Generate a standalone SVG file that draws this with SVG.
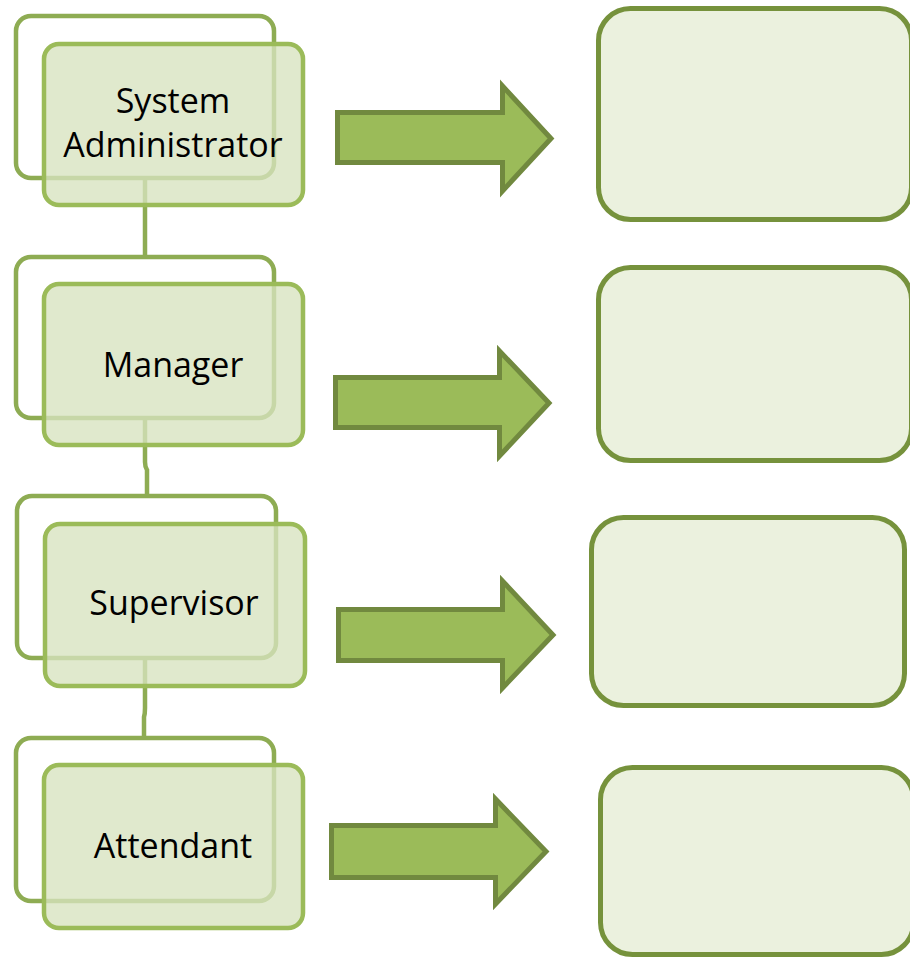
<svg xmlns="http://www.w3.org/2000/svg" width="910" height="959" viewBox="0 0 910 959">
<style>
.back{fill:none;stroke:#8eac53;stroke-width:4.5}
.front{fill:#d7e3bf;fill-opacity:0.78;stroke:#9bbb59;stroke-width:4.5}
.lbl{font-family:"Open Sans","Noto Sans",sans-serif;font-size:34px;fill:#000;text-anchor:middle}
.conn{fill:none;stroke:#8eac53;stroke-width:4.5}
.arrow{fill:#9bbb59;stroke:#71893f;stroke-width:5;stroke-linejoin:miter}
.box{fill:#ebf1de;stroke:#76923c;stroke-width:5}
</style>
<rect width="910" height="959" fill="#ffffff"/>
<g id="connectors">
<path class="conn" d="M145,178 V257"/>
<path class="conn" d="M145,418 V462 Q145,467 147,470 V496"/>
<path class="conn" d="M145,658 V708 Q145,714 144,717 V738"/>
</g>
<g id="node-sysadmin">
<rect class="back" x="16" y="16" width="258" height="162" rx="15"/>
<rect class="front" x="44" y="44" width="259" height="161" rx="15"/>
<text class="lbl" x="173" y="113">System</text>
<text class="lbl" x="173" y="157">Administrator</text>
</g>
<g id="node-manager">
<rect class="back" x="16" y="257" width="258" height="161" rx="15"/>
<rect class="front" x="44" y="284" width="259" height="161" rx="15"/>
<text class="lbl" x="173" y="377">Manager</text>
</g>
<g id="node-supervisor">
<rect class="back" x="17" y="496" width="259" height="162" rx="15"/>
<rect class="front" x="45" y="524" width="260" height="162" rx="15"/>
<text class="lbl" x="174" y="615">Supervisor</text>
</g>
<g id="node-attendant">
<rect class="back" x="16" y="738" width="258" height="163" rx="15"/>
<rect class="front" x="44" y="765" width="259" height="163" rx="15"/>
<text class="lbl" x="173" y="858">Attendant</text>
</g>
<g id="arrow-1"><path class="arrow" d="M337.5,112.5 H502.5 V86 L551,138.5 L502.5,191 V162.5 H337.5 Z"/></g>
<g id="arrow-2"><path class="arrow" d="M335.5,377.5 H499.5 V351 L549,403 L499.5,456 V427.5 H335.5 Z"/></g>
<g id="arrow-3"><path class="arrow" d="M338.5,609.5 H502.5 V581 L553,635 L502.5,688 V660.5 H338.5 Z"/></g>
<g id="arrow-4"><path class="arrow" d="M331.5,825.5 H495.5 V799 L546,851.5 L495.5,904 V877.5 H331.5 Z"/></g>
<g id="box-1"><rect class="box" x="598.5" y="8.5" width="313" height="211" rx="32"/></g>
<g id="box-2"><rect class="box" x="598.5" y="267.5" width="313" height="193" rx="32"/></g>
<g id="box-3"><rect class="box" x="591.5" y="517.5" width="313" height="188" rx="32"/></g>
<g id="box-4"><rect class="box" x="600.5" y="767.5" width="313" height="187" rx="32"/></g>
</svg>
